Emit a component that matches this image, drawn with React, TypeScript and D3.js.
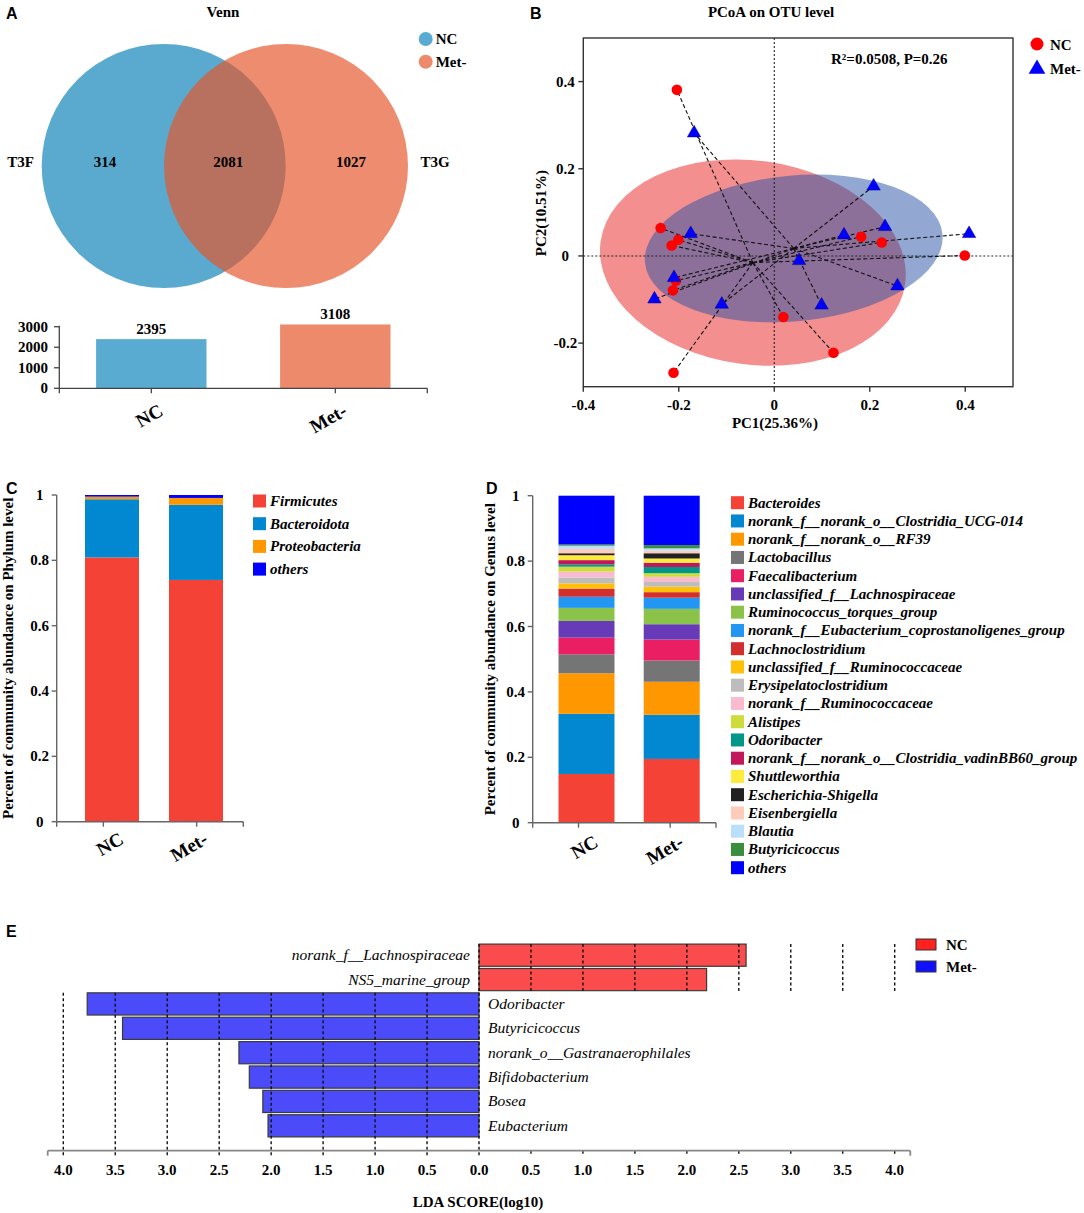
import * as d3 from "d3";

const SERIF = "'Liberation Serif', 'Times New Roman', serif";
const SANS = "'Liberation Sans', Arial, sans-serif";

const GROUPS = ["NC", "Met-"];

// A: Venn + OTU totals
const VENN_SETS = ["T3F", "T3G"];
const VENN_REGIONS = [314, 2081, 1027]; // T3F only, shared, T3G only
const OTU_TOTALS = [2395, 3108];
const OTU_TICKS = [0, 1000, 2000, 3000];

// B: PCoA
const NC_PC1 = [-0.204, -0.238, -0.201, -0.215, -0.206, -0.212, -0.211, 0.019, 0.124, 0.182, 0.225, 0.399];
const NC_PC2 = [0.381, 0.064, 0.037, 0.024, -0.057, -0.079, -0.268, -0.14, -0.222, 0.044, 0.031, 0.001];
const MET_PC1 = [-0.168, -0.175, -0.21, -0.251, -0.11, 0.052, 0.099, 0.146, 0.208, 0.232, 0.258, 0.408];
const MET_PC2 = [0.282, 0.051, -0.05, -0.099, -0.111, -0.011, -0.113, 0.048, 0.16, 0.067, -0.069, 0.051];
const NC_ELLIPSE = { a: 0.322, b: 0.234, angle: 8 };
const MET_ELLIPSE = { a: 0.313, b: 0.167, angle: -5.5 };
const PC1_TICKS = [-0.4, -0.2, 0, 0.2, 0.4];
const PC2_TICKS = [-0.2, 0, 0.2, 0.4];

// C: phylum
const PHYLA = ["Firmicutes", "Bacteroidota", "Proteobacteria", "others"];
const PHYLA_COLORS = ["#f44336", "#0288d1", "#ff9800", "#0000ff"];
const PHYLA_NC = [0.809, 0.178, 0.008, 0.005];
const PHYLA_MET = [0.74, 0.23, 0.021, 0.009];

// D: genus
const GENERA = [
  "Bacteroides",
  "norank_f__norank_o__Clostridia_UCG-014",
  "norank_f__norank_o__RF39",
  "Lactobacillus",
  "Faecalibacterium",
  "unclassified_f__Lachnospiraceae",
  "Ruminococcus_torques_group",
  "norank_f__Eubacterium_coprostanoligenes_group",
  "Lachnoclostridium",
  "unclassified_f__Ruminococcaceae",
  "Erysipelatoclostridium",
  "norank_f__Ruminococcaceae",
  "Alistipes",
  "Odoribacter",
  "norank_f__norank_o__Clostridia_vadinBB60_group",
  "Shuttleworthia",
  "Escherichia-Shigella",
  "Eisenbergiella",
  "Blautia",
  "Butyricicoccus",
  "others",
];
const GENERA_COLORS = [
  "#f44336", "#0288d1", "#ff9800", "#757575", "#e91e63", "#673ab7", "#8bc34a",
  "#2196f3", "#d32f2f", "#ffc107", "#bdbdbd", "#f8bbd0", "#cddc39", "#009688",
  "#c2185b", "#ffeb3b", "#212121", "#ffccbc", "#bbdefb", "#388e3c", "#0000ff",
];
const GENERA_NC = [0.149, 0.184, 0.124, 0.058, 0.051, 0.051, 0.04, 0.034, 0.025, 0.016, 0.018, 0.018, 0.015, 0.007, 0.013, 0.015, 0.006, 0.013, 0.01, 0.004, 0.149];
const GENERA_MET = [0.195, 0.135, 0.101, 0.065, 0.064, 0.047, 0.047, 0.034, 0.017, 0.017, 0.014, 0.016, 0.011, 0.019, 0.013, 0.013, 0.016, 0.008, 0.007, 0.01, 0.151];
const FRACTION_TICKS = [0, 0.2, 0.4, 0.6, 0.8, 1];

// E: LEfSe
const LDA_TAXA = [
  "norank_f__Lachnospiraceae",
  "NS5_marine_group",
  "Odoribacter",
  "Butyricicoccus",
  "norank_o__Gastranaerophilales",
  "Bifidobacterium",
  "Bosea",
  "Eubacterium",
];
const LDA_SCORES = [2.57, 2.19, 3.77, 3.43, 2.31, 2.21, 2.08, 2.03];
const LDA_GROUP = ["NC", "NC", "Met-", "Met-", "Met-", "Met-", "Met-", "Met-"];
const LDA_TICKS = d3.range(-8, 9).map((i) => i / 2);

const fmt = (v: number) => String(v);

function GroupLabels({
  scale,
  axisY,
  off,
}: {
  scale: (g: string) => number;
  axisY: number;
  off: number;
}) {
  return (
    <>
      {GROUPS.map((g) => {
        const px = scale(g) + 13;
        const py = axisY + off;
        return (
          <text
            key={g}
            x={px}
            y={py}
            textAnchor="end"
            transform={`rotate(-30 ${px} ${py})`}
            fontFamily={SERIF}
            fontWeight="bold"
            fontSize={19}
          >
            {g}
          </text>
        );
      })}
    </>
  );
}

function VennPanel() {
  const circles = [
    { cx: 163.7, fill: "#5aaad0", op: 1 },
    { cx: 286, fill: "#e5562a", op: 0.68 },
  ];
  const labelX = [105, 228.3, 351];
  const x = d3.scaleBand<string>().domain(GROUPS).range([59.3, 427.3]).paddingInner(0.4).paddingOuter(0.2);
  const y = d3.scaleLinear().domain([0, 3000]).range([388.3, 326.7]);
  const barColors = ["#5aabd1", "#ec8a6b"];
  const axisY = y(0);
  return (
    <g>
      <text x={6} y={19} fontFamily={SANS} fontWeight="bold" fontSize={16}>A</text>
      <text x={223} y={17} textAnchor="middle" fontFamily={SERIF} fontWeight="bold" fontSize={15}>Venn</text>
      {circles.map((c, i) => (
        <circle key={i} cx={c.cx} cy={166} r={122} fill={c.fill} fillOpacity={c.op} />
      ))}
      {VENN_REGIONS.map((v, i) => (
        <text key={i} x={labelX[i]} y={166.5} textAnchor="middle" fontFamily={SERIF} fontWeight="bold" fontSize={15}>
          {v}
        </text>
      ))}
      <text x={20.7} y={166.5} textAnchor="middle" fontFamily={SERIF} fontWeight="bold" fontSize={15}>{VENN_SETS[0]}</text>
      <text x={435} y={166.5} textAnchor="middle" fontFamily={SERIF} fontWeight="bold" fontSize={15}>{VENN_SETS[1]}</text>
      {GROUPS.map((g, i) => (
        <g key={g} transform={`translate(425.7, ${39 + i * 22.7})`}>
          <circle r={7} fill={barColors[i]} />
          <text x={10} y={5.3} fontFamily={SERIF} fontWeight="bold" fontSize={15}>{g}</text>
        </g>
      ))}

      {/* OTU totals */}
      {GROUPS.map((g, i) => (
        <g key={g}>
          <rect x={x(g)} y={y(OTU_TOTALS[i])} width={x.bandwidth()} height={axisY - y(OTU_TOTALS[i])} fill={barColors[i]} />
          <text x={x(g)! + x.bandwidth() / 2} y={y(OTU_TOTALS[i]) - 5} textAnchor="middle" fontFamily={SERIF} fontWeight="bold" fontSize={15}>
            {OTU_TOTALS[i]}
          </text>
        </g>
      ))}
      <g stroke="#444" strokeWidth={1.3}>
        <line x1={59.3} x2={59.3} y1={axisY} y2={y(3050)} />
        <line x1={59.3} x2={427.3} y1={axisY} y2={axisY} />
        {OTU_TICKS.map((t) => (
          <line key={t} x1={54} x2={59.3} y1={y(t)} y2={y(t)} />
        ))}
        {[59.3, ...GROUPS.map((g) => x(g)! + x.bandwidth() / 2), 427.3].map((t, i) => (
          <line key={i} x1={t} x2={t} y1={axisY} y2={axisY + 5} />
        ))}
      </g>
      {OTU_TICKS.map((t) => (
        <text key={t} x={48} y={y(t) + 5} textAnchor="end" fontFamily={SERIF} fontWeight="bold" fontSize={15}>
          {t}
        </text>
      ))}
      <GroupLabels scale={(g) => x(g)! + x.bandwidth() / 2} axisY={axisY} off={26} />
    </g>
  );
}

function PcoaPanel() {
  const x = d3.scaleLinear().domain([-0.4, 0.5]).range([583.3, 1013]);
  const y = d3.scaleLinear().domain([-0.3, 0.5]).range([386.7, 38]);
  const groups = [
    { name: "NC", pc1: NC_PC1, pc2: NC_PC2, ell: NC_ELLIPSE, fill: "#e92020" },
    { name: "Met-", pc1: MET_PC1, pc2: MET_PC2, ell: MET_ELLIPSE, fill: "#2551a5" },
  ].map((g) => ({ ...g, cx: d3.mean(g.pc1)!, cy: d3.mean(g.pc2)! }));
  const tri = d3.symbol(d3.symbolTriangle, 78)()!;
  const triLegend = d3.symbol(d3.symbolTriangle, 120)()!;
  const [x0, x1] = x.range();
  const [y0, y1] = y.range();
  return (
    <g>
      <text x={530} y={19} fontFamily={SANS} fontWeight="bold" fontSize={16}>B</text>
      <text x={771} y={17} textAnchor="middle" fontFamily={SERIF} fontWeight="bold" fontSize={15}>PCoA on OTU level</text>

      {groups.map((g) => {
        const cx = x(g.cx);
        const cy = y(g.cy);
        return (
          <ellipse
            key={g.name}
            cx={cx}
            cy={cy}
            rx={x(g.cx + g.ell.a) - cx}
            ry={cy - y(g.cy + g.ell.b)}
            transform={`rotate(${g.ell.angle} ${cx} ${cy})`}
            fill={g.fill}
            fillOpacity={0.5}
          />
        );
      })}

      <g stroke="#222" strokeWidth={1.1} strokeDasharray="2,2">
        <line x1={x(0)} x2={x(0)} y1={y1} y2={y0} />
        <line x1={x0} x2={x1} y1={y(0)} y2={y(0)} />
      </g>

      <g stroke="#111" strokeWidth={1.1} strokeDasharray="4,2.5" fill="none">
        {groups.map((g) =>
          g.pc1.map((p, i) => (
            <line key={`${g.name}${i}`} x1={x(g.cx)} y1={y(g.cy)} x2={x(p)} y2={y(g.pc2[i])} />
          )),
        )}
      </g>

      {NC_PC1.map((p, i) => (
        <circle key={i} cx={x(p)} cy={y(NC_PC2[i])} r={5.3} fill="#ff0000" />
      ))}
      {MET_PC1.map((p, i) => (
        <path key={i} d={tri} transform={`translate(${x(p)},${y(MET_PC2[i])})`} fill="#0000ff" stroke="#00008a" strokeWidth={0.5} />
      ))}

      {/* frame */}
      <g stroke="#333" strokeWidth={1.4} fill="none">
        <rect x={x0} y={y1} width={x1 - x0} height={y0 - y1} />
        {PC2_TICKS.map((t) => (
          <line key={t} x1={x0 - 5} x2={x0} y1={y(t)} y2={y(t)} />
        ))}
        {PC1_TICKS.map((t) => (
          <line key={t} x1={x(t)} x2={x(t)} y1={y0} y2={y0 + 5} />
        ))}
      </g>
      {PC2_TICKS.map((t) => (
        <text key={t} x={x0 - 18} y={y(t) + 5} textAnchor="middle" fontFamily={SERIF} fontWeight="bold" fontSize={15}>
          {fmt(t)}
        </text>
      ))}
      {PC1_TICKS.map((t) => (
        <text key={t} x={x(t)} y={410} textAnchor="middle" fontFamily={SERIF} fontWeight="bold" fontSize={15}>
          {fmt(t)}
        </text>
      ))}
      <text x={775} y={428} textAnchor="middle" fontFamily={SERIF} fontWeight="bold" fontSize={15}>PC1(25.36%)</text>
      <text x={546} y={213} textAnchor="middle" transform="rotate(-90 546 213)" fontFamily={SERIF} fontWeight="bold" fontSize={15}>
        PC2(10.51%)
      </text>
      <text x={831} y={64} fontFamily={SERIF} fontWeight="bold" fontSize={15}>R²=0.0508, P=0.26</text>

      <circle cx={1037} cy={44} r={6.5} fill="#ff0000" />
      <text x={1050} y={49.5} fontFamily={SERIF} fontWeight="bold" fontSize={15}>NC</text>
      <path d={triLegend} transform="translate(1037,69)" fill="#0000ff" />
      <text x={1050} y={73.5} fontFamily={SERIF} fontWeight="bold" fontSize={15}>Met-</text>
    </g>
  );
}

function StackPanel({
  letter,
  letterX,
  keys,
  colors,
  nc,
  met,
  axisX,
  axisEnd,
  yRange,
  barCenters,
  barWidth,
  ylabel,
  ylabelX,
  legendX,
  legendY,
  legendStep,
  labelOff,
}: {
  letter: string;
  letterX: number;
  keys: string[];
  colors: string[];
  nc: number[];
  met: number[];
  axisX: number;
  axisEnd: number;
  yRange: [number, number];
  barCenters: [number, number];
  barWidth: number;
  ylabel: string;
  ylabelX: number;
  legendX: number;
  legendY: number;
  legendStep: number;
  labelOff: number;
}) {
  const y = d3.scaleLinear().domain([0, 1]).range(yRange);
  const xBar = d3.scalePoint<string>().domain(GROUPS).range(barCenters);
  const xTick = d3.scalePoint<string>().domain(GROUPS).range([axisX, axisEnd]).padding(0.5);
  const rows = GROUPS.map((_, gi) =>
    Object.fromEntries(keys.map((k, j) => [k, (gi === 0 ? nc : met)[j]])),
  );
  const series = d3.stack<Record<string, number>>().keys(keys)(rows);
  const color = d3.scaleOrdinal<string, string>().domain(keys).range(colors);
  const axisY = y(0);
  const midY = (yRange[0] + yRange[1]) / 2;
  return (
    <g>
      <text x={letterX} y={494} fontFamily={SANS} fontWeight="bold" fontSize={16}>{letter}</text>
      {series.map((s) => (
        <g key={s.key} fill={color(s.key)}>
          {s.map((d, i) => (
            <rect
              key={i}
              x={xBar(GROUPS[i])! - barWidth / 2}
              y={y(d[1])}
              width={barWidth}
              height={Math.max(0, y(d[0]) - y(d[1]))}
            />
          ))}
        </g>
      ))}
      <g stroke="#666" strokeWidth={1.4}>
        <line x1={axisX} x2={axisX} y1={axisY} y2={y(1)} />
        <line x1={axisX} x2={axisEnd} y1={axisY} y2={axisY} />
        {FRACTION_TICKS.map((t) => (
          <line key={t} x1={axisX - 5} x2={axisX} y1={y(t)} y2={y(t)} />
        ))}
        {[axisX, ...GROUPS.map((g) => xTick(g)!), axisEnd].map((t, i) => (
          <line key={i} x1={t} x2={t} y1={axisY} y2={axisY + 5} />
        ))}
      </g>
      {FRACTION_TICKS.map((t) => (
        <text key={t} x={axisX - 17} y={y(t) + 5} textAnchor="middle" fontFamily={SERIF} fontWeight="bold" fontSize={15}>
          {fmt(t)}
        </text>
      ))}
      <text
        x={ylabelX}
        y={midY}
        textAnchor="middle"
        transform={`rotate(-90 ${ylabelX} ${midY})`}
        fontFamily={SERIF}
        fontWeight="bold"
        fontSize={15}
      >
        {ylabel}
      </text>
      <GroupLabels scale={(g) => xBar(g)!} axisY={axisY} off={labelOff} />
      {keys.map((k, i) => {
        const cy = legendY + i * legendStep;
        return (
          <g key={k}>
            <rect x={legendX} y={cy - 6.5} width={13} height={13} fill={color(k)} />
            <text x={legendX + 17} y={cy + 5} fontFamily={SERIF} fontStyle="italic" fontWeight="bold" fontSize={15}>
              {k}
            </text>
          </g>
        );
      })}
    </g>
  );
}

function LefsePanel() {
  const x = d3.scaleLinear().domain([-4, 4]).range([63.3, 894.7]);
  const y = d3.scaleBand<string>().domain(LDA_TAXA).range([943, 1138]).paddingInner(0.09).paddingOuter(0.045);
  const axisY = 1150.7;
  const top = y(LDA_TAXA[0])!;
  const split = y(LDA_TAXA[2])!;
  const fillFor = (g: string) => (g === "NC" ? "#fa4c4c" : "#4b4bfa");
  return (
    <g>
      <text x={6} y={937} fontFamily={SANS} fontWeight="bold" fontSize={16}>E</text>
      {LDA_TAXA.map((t, i) => {
        const v = LDA_GROUP[i] === "NC" ? LDA_SCORES[i] : -LDA_SCORES[i];
        const x0 = Math.min(x(0), x(v));
        return (
          <rect
            key={t}
            x={x0}
            y={y(t)}
            width={Math.abs(x(v) - x(0))}
            height={y.bandwidth()}
            fill={fillFor(LDA_GROUP[i])}
            stroke="#3a3a3a"
            strokeWidth={1.2}
          />
        );
      })}
      <g stroke="#111" strokeWidth={1.4} strokeDasharray="3,2.5">
        {LDA_TICKS.filter((v) => v <= 0).map((v) => (
          <line key={`n${v}`} x1={x(v)} x2={x(v)} y1={split} y2={axisY + 5} />
        ))}
        {LDA_TICKS.filter((v) => v >= 0).map((v) => (
          <line key={`p${v}`} x1={x(v)} x2={x(v)} y1={top} y2={split} />
        ))}
        {LDA_TICKS.filter((v) => v > 0).map((v) => (
          <line key={`t${v}`} x1={x(v)} x2={x(v)} y1={axisY} y2={axisY + 5} />
        ))}
      </g>
      <g stroke="#888" strokeWidth={1.8}>
        <line x1={x(-4.15)} x2={x(4.15)} y1={axisY} y2={axisY} />
        <line x1={x(-4.15)} x2={x(-4.15)} y1={axisY} y2={axisY + 5} />
        <line x1={x(4.15)} x2={x(4.15)} y1={axisY} y2={axisY + 5} />
      </g>
      {LDA_TICKS.map((v) => (
        <text key={v} x={x(v)} y={1175} textAnchor="middle" fontFamily={SERIF} fontWeight="bold" fontSize={15}>
          {Math.abs(v).toFixed(1)}
        </text>
      ))}
      {LDA_TAXA.map((t, i) => {
        const isNC = LDA_GROUP[i] === "NC";
        return (
          <text
            key={t}
            x={isNC ? x(0) - 9 : x(0) + 9}
            y={y(t)! + y.bandwidth() / 2 + 5}
            textAnchor={isNC ? "end" : "start"}
            fontFamily={SERIF}
            fontStyle="italic"
            fontSize={15.5}
          >
            {t}
          </text>
        );
      })}
      <text x={478} y={1207} textAnchor="middle" fontFamily={SERIF} fontWeight="bold" fontSize={15}>LDA SCORE(log10)</text>
      {GROUPS.map((g, i) => (
        <g key={g}>
          <rect x={916} y={939 + i * 22} width={20} height={11} fill={i === 0 ? "#ff2020" : "#1010ff"} stroke="#333" strokeWidth={1} />
          <text x={946} y={949.5 + i * 22} fontFamily={SERIF} fontWeight="bold" fontSize={15}>{g}</text>
        </g>
      ))}
    </g>
  );
}

export default function App() {
  return (
    <>
      <style>{"body{margin:0;background:#fff}"}</style>
      <svg width={1084} height={1213} viewBox="0 0 1084 1213" style={{ display: "block" }}>
        <rect width={1084} height={1213} fill="#fff" />
        <VennPanel />
        <PcoaPanel />
        <StackPanel
          letter="C"
          letterX={6}
          keys={PHYLA}
          colors={PHYLA_COLORS}
          nc={PHYLA_NC}
          met={PHYLA_MET}
          axisX={56.7}
          axisEnd={243.3}
          yRange={[821.7, 495]}
          barCenters={[112, 196]}
          barWidth={54}
          ylabel="Percent of community abundance on Phylum level"
          ylabelX={13}
          legendX={253}
          legendY={501}
          legendStep={22.7}
          labelOff={21}
        />
        <StackPanel
          letter="D"
          letterX={486}
          keys={GENERA}
          colors={GENERA_COLORS}
          nc={GENERA_NC}
          met={GENERA_MET}
          axisX={532.7}
          axisEnd={716}
          yRange={[822.7, 495.7]}
          barCenters={[586.5, 671.7]}
          barWidth={56}
          ylabel="Percent of community abundance on Genus level"
          ylabelX={495}
          legendX={731}
          legendY={502.7}
          legendStep={18.25}
          labelOff={23}
        />
        <LefsePanel />
      </svg>
    </>
  );
}
